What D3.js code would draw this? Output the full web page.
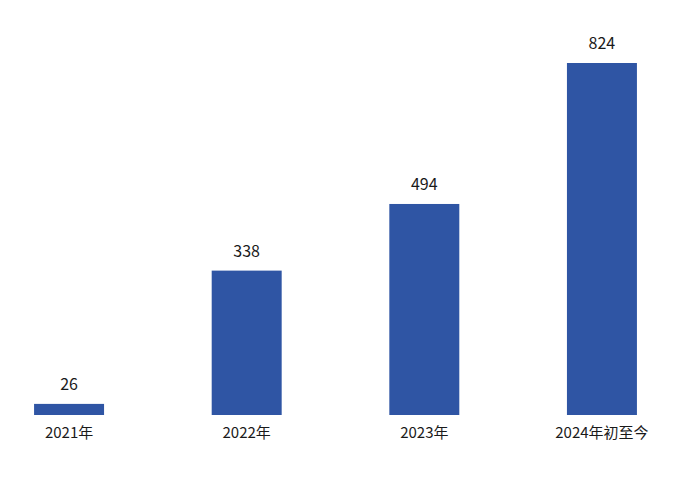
<!DOCTYPE html>
<html>
<head>
<meta charset="utf-8">
<script src="https://cdn.jsdelivr.net/npm/d3@7"></script>
<style>
    html, body { margin: 0; padding: 0; background: #fff; }
    svg text { font-family: "Noto Sans CJK SC", "Noto Sans", sans-serif; fill: #1a1a1a; }
</style>
</head>
<body>
<svg id="chart" width="700" height="477"></svg>
<script>
const categories = ['2021年', '2022年', '2023年', '2024年初至今']
const values = [26, 338, 494, 824]

const svg = d3.select('#chart')

const x = d3.scaleBand()
    .domain(categories)
    .range([-19.75, 690.75])
    .paddingInner(0.606)
    .paddingOuter(0.303)

const y = d3.scaleLinear()
    .domain([0, 824])
    .range([415, 63])

const data = categories.map((c, i) => ({ cat: c, value: values[i] }))

svg.selectAll('rect.bar')
    .data(data)
    .join('rect')
    .attr('class', 'bar')
    .attr('x', d => x(d.cat))
    .attr('y', d => y(d.value))
    .attr('width', x.bandwidth())
    .attr('height', d => y(0) - y(d.value))
    .attr('fill', '#2f55a4')

// value labels above bars
svg.selectAll('text.value')
    .data(data)
    .join('text')
    .attr('class', 'value')
    .attr('x', d => x(d.cat) + x.bandwidth() / 2)
    .attr('y', d => y(d.value) - 14)
    .attr('text-anchor', 'middle')
    .attr('font-size', 16)
    .text(d => d.value)

// category axis, no line or ticks
const axis = svg.append('g')
    .attr('transform', `translate(0, ${y(0)})`)
    .call(d3.axisBottom(x).tickSize(0).tickPadding(12))
axis.select('.domain').remove()
axis.selectAll('text')
    .attr('font-size', 15)
    .attr('font-family', null)
    .attr('fill', null)
</script>
</body>
</html>
